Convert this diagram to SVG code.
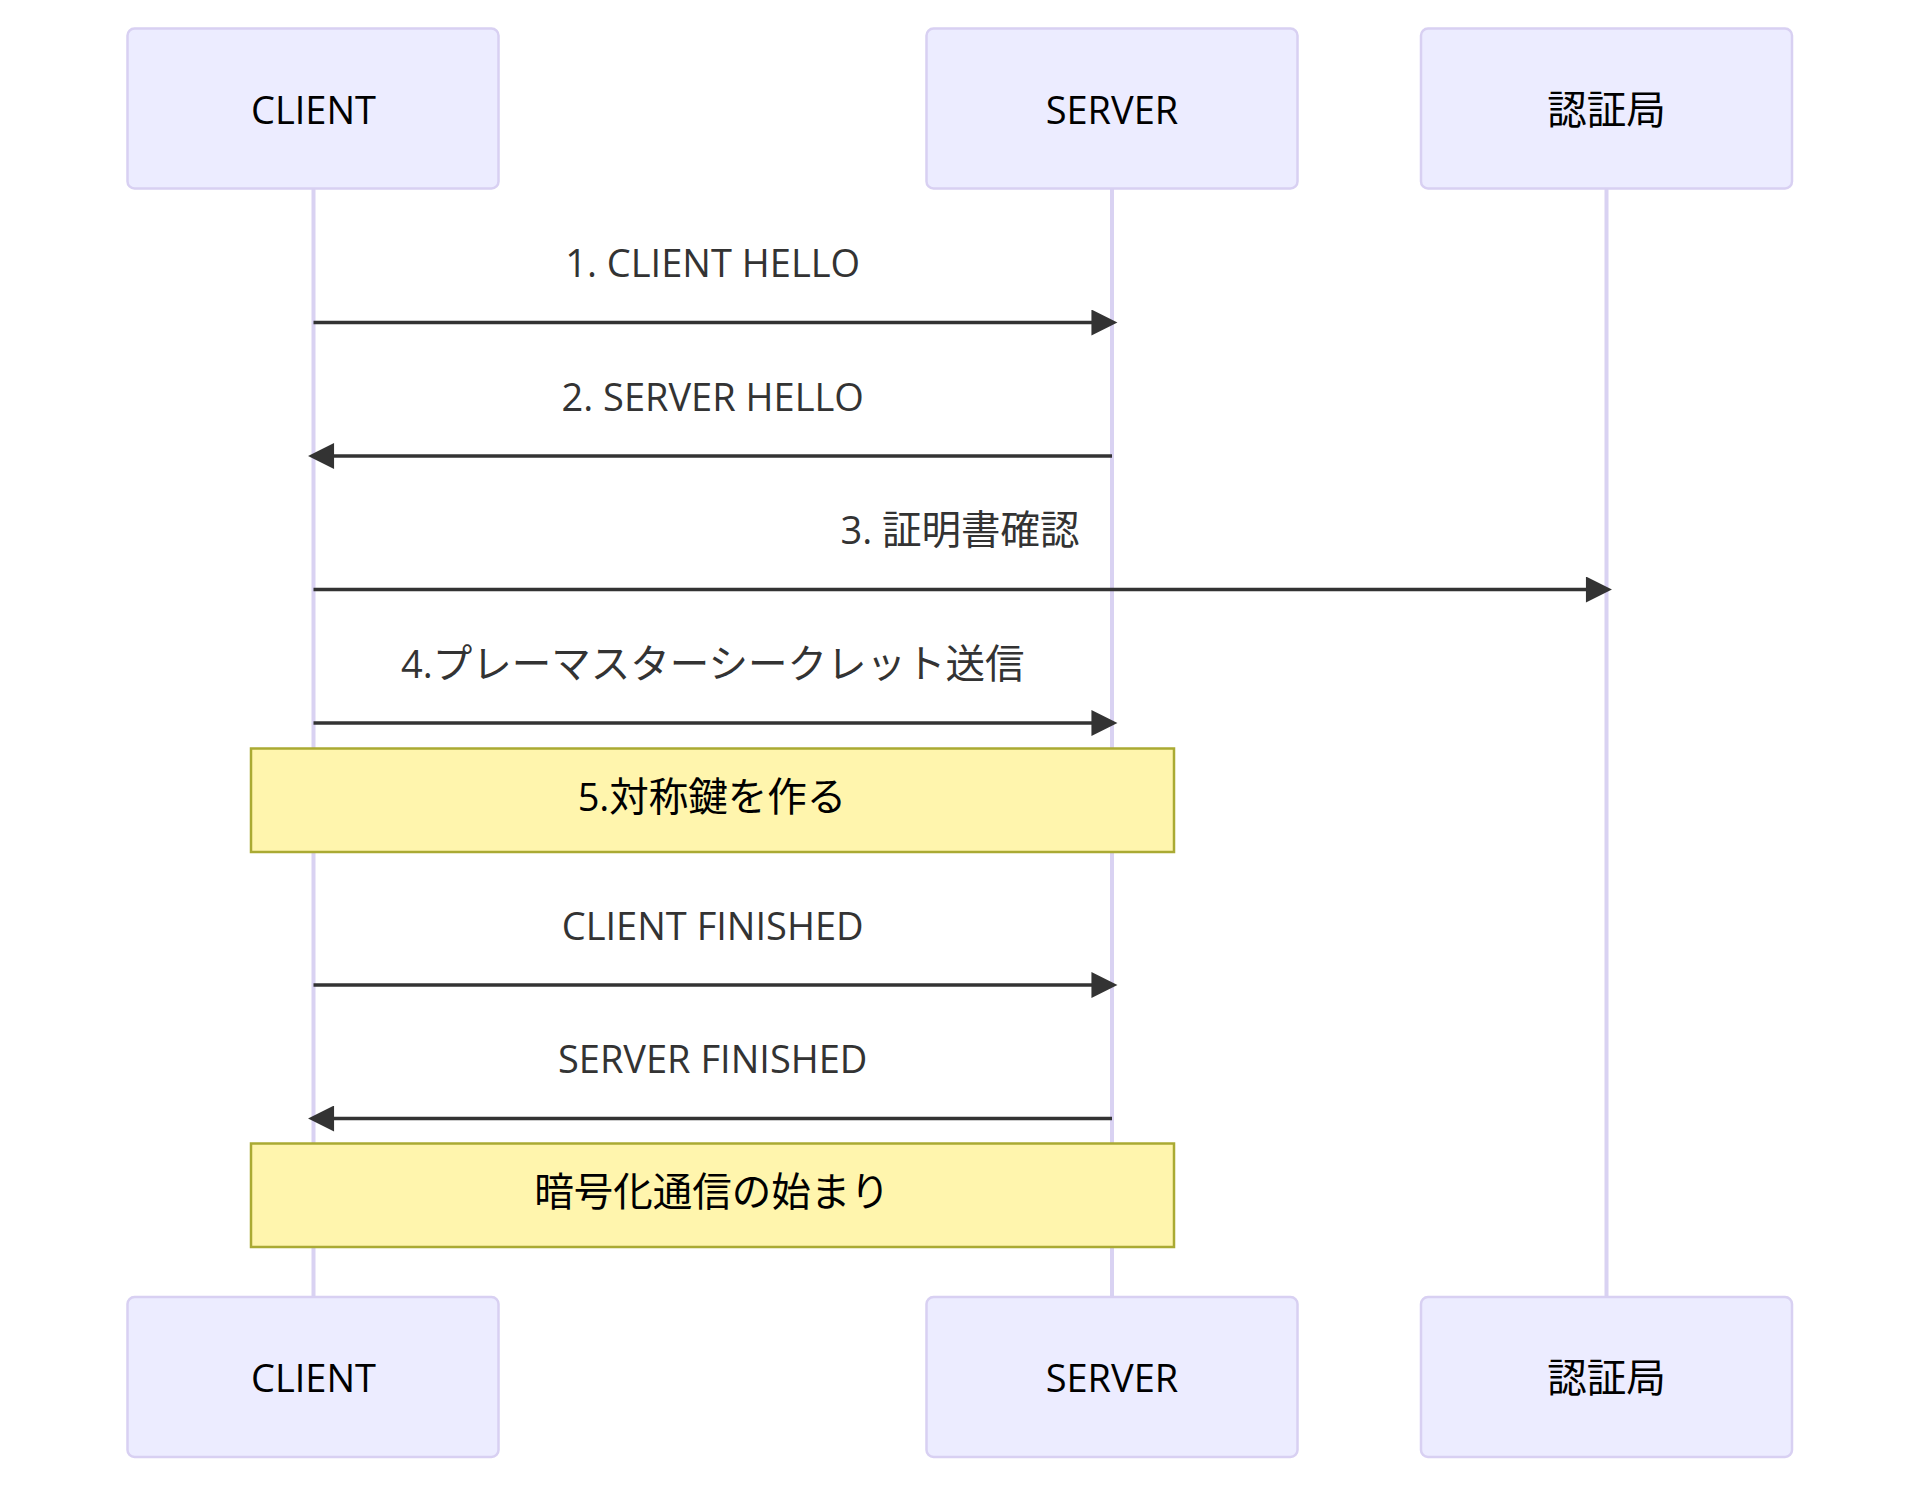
<svg xmlns="http://www.w3.org/2000/svg" width="1920" height="1488" viewBox="0 0 1920 1488">
<style>
text{font-family:"Open Sans","Noto Sans","Noto Sans CJK JP",sans-serif;font-size:38px;text-anchor:middle}
.j{font-size:39.5px}
.actor{fill:#ececff;stroke:#d8d0f2;stroke-width:2.5}
.actor-text{fill:#000;dominant-baseline:central}
.life{stroke:#d9d2f2;stroke-width:4}
.msg{stroke:#333;stroke-width:3.5;fill:none;marker-end:url(#arrow)}
.msg-text{fill:#333}
.note{fill:#fff5ad;stroke:#aaaa33;stroke-width:2.5}
.note-text{fill:#000;dominant-baseline:central}
</style>
<defs>
<marker id="arrow" viewBox="0 0 10 10" refX="7.9" refY="5" markerUnits="userSpaceOnUse" markerWidth="27" markerHeight="26" orient="auto">
<path d="M0,0 L10,5 L0,10 z" fill="#333"/>
</marker>
</defs>
<rect width="1920" height="1488" fill="#fff"/>
<g id="lifelines">
<line class="life" x1="313.5" y1="189" x2="313.5" y2="1297"/>
<line class="life" x1="1112" y1="189" x2="1112" y2="1297"/>
<line class="life" x1="1606.5" y1="189" x2="1606.5" y2="1297"/>
</g>
<g id="client-top"><rect class="actor" x="127.5" y="28.5" width="371" height="160" rx="7"/><text class="actor-text" x="313.5" y="108.5">CLIENT</text></g>
<g id="server-top"><rect class="actor" x="926.5" y="28.5" width="371" height="160" rx="7"/><text class="actor-text" x="1112" y="108.5">SERVER</text></g>
<g id="ca-top"><rect class="actor" x="1421" y="28.5" width="371" height="160" rx="7"/><text class="actor-text j" x="1606.5" y="108.5">認証局</text></g>
<g id="connectors">
<line class="msg" x1="313.5" y1="322.5" x2="1112" y2="322.5"/>
<text class="msg-text" x="712.7" y="277">1. CLIENT HELLO</text>
<line class="msg" x1="1112" y1="456" x2="313.5" y2="456"/>
<text class="msg-text" x="712.7" y="410.5">2. SERVER HELLO</text>
<line class="msg" x1="313.5" y1="589.5" x2="1606.5" y2="589.5"/>
<text class="msg-text" x="960" y="544">3. <tspan class="j">証明書確認</tspan></text>
<line class="msg" x1="313.5" y1="723" x2="1112" y2="723"/>
<text class="msg-text" x="712.7" y="677.5">4.<tspan class="j">プレーマスターシークレット送信</tspan></text>
<line class="msg" x1="313.5" y1="985" x2="1112" y2="985"/>
<text class="msg-text" x="712.7" y="939.5">CLIENT FINISHED</text>
<line class="msg" x1="1112" y1="1118.5" x2="313.5" y2="1118.5"/>
<text class="msg-text" x="712.7" y="1073">SERVER FINISHED</text>
</g>
<g id="note1"><rect class="note" x="251" y="748.5" width="923" height="103.5"/><text class="note-text" x="712" y="795.5">5.<tspan class="j">対称鍵を作る</tspan></text></g>
<g id="note2"><rect class="note" x="251" y="1143.5" width="923" height="103.5"/><text class="note-text j" x="712" y="1190.5">暗号化通信の始まり</text></g>
<g id="client-bottom"><rect class="actor" x="127.5" y="1297" width="371" height="160" rx="7"/><text class="actor-text" x="313.5" y="1377">CLIENT</text></g>
<g id="server-bottom"><rect class="actor" x="926.5" y="1297" width="371" height="160" rx="7"/><text class="actor-text" x="1112" y="1377">SERVER</text></g>
<g id="ca-bottom"><rect class="actor" x="1421" y="1297" width="371" height="160" rx="7"/><text class="actor-text j" x="1606.5" y="1377">認証局</text></g>
</svg>
